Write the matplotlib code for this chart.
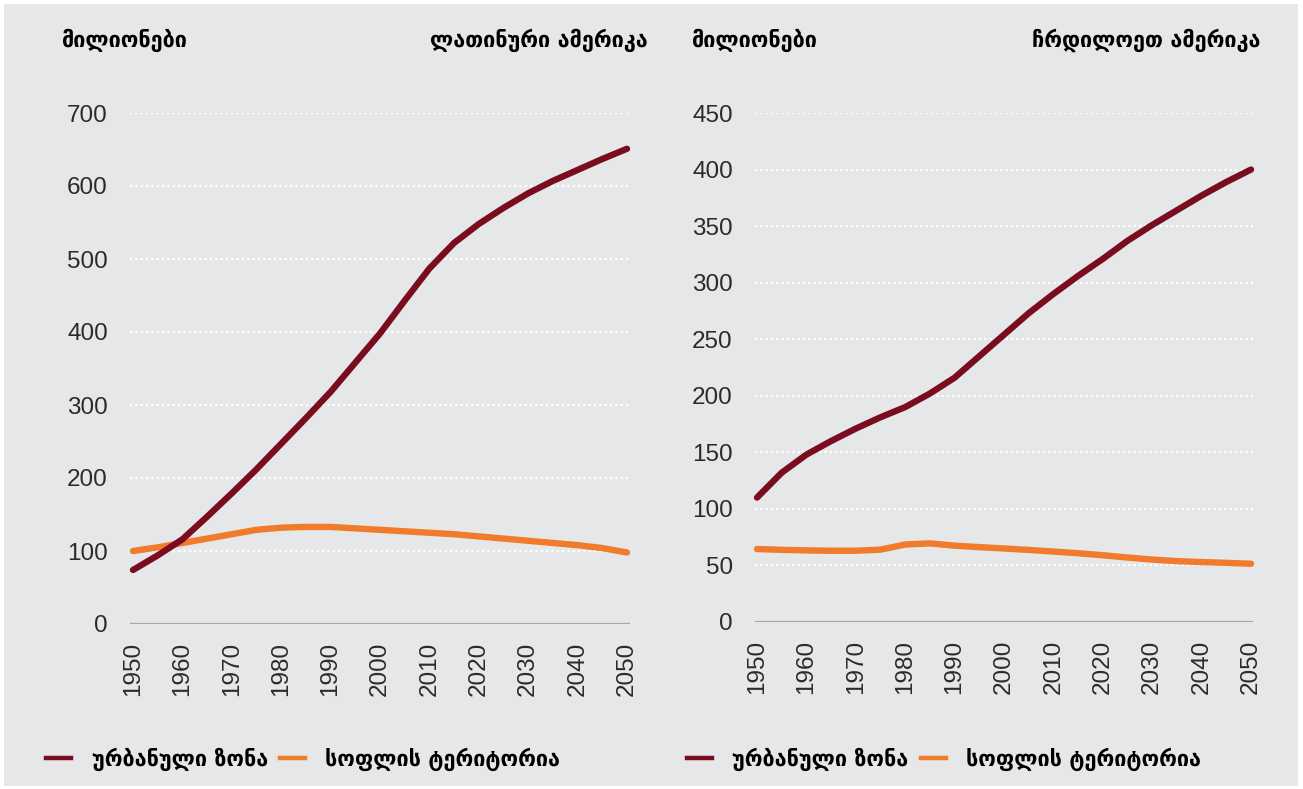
import matplotlib
matplotlib.use('Agg')
import matplotlib.pyplot as plt
from matplotlib.patches import Rectangle
from matplotlib.lines import Line2D

# ---------------- data ----------------
years = [1950, 1955, 1960, 1965, 1970, 1975, 1980, 1985, 1990, 1995, 2000,
         2005, 2010, 2015, 2020, 2025, 2030, 2035, 2040, 2045, 2050]
tick_years = [1950, 1960, 1970, 1980, 1990, 2000, 2010, 2020, 2030, 2040, 2050]

latam_urban = [74, 94, 116, 147, 179, 212, 247, 282, 318, 358, 398,
               443, 487, 522, 548, 570, 590, 607, 622, 637, 651]
latam_rural = [100, 105, 111, 117, 123, 129, 132, 133, 133, 131, 129,
               127, 125, 123, 120, 117, 114, 111, 108, 104, 98]
na_urban = [110, 132, 148, 160, 171, 181, 190, 202, 216, 235, 254,
            273, 290, 306, 321, 337, 351, 364, 377, 389, 400]
na_rural = [64.5, 63.8, 63.3, 63.0, 63.0, 64.0, 68.5, 69.5, 67.5, 66.2, 65.0,
            63.7, 62.3, 60.8, 59.0, 57.0, 55.2, 53.8, 53.0, 52.3, 51.5]

latam_yticks = [0, 100, 200, 300, 400, 500, 600, 700]
na_yticks = [0, 50, 100, 150, 200, 250, 300, 350, 400, 450]

unit_label = 'მილიონები'
title_latam = 'ლათინური ამერიკა'
title_na = 'ჩრდილოეთ ამერიკა'
label_urban = 'ურბანული ზონა'
label_rural = 'სოფლის ტერიტორია'

# ---------------- style ----------------
URBAN = '#7a0c1f'
RURAL = '#f07b2b'
BG = '#e6e7e8'
TICKC = '#2b2b2b'
GEO_FONT = dict(family=['DejaVu Sans'], weight='bold', size=15.6)

W, H = 1303, 789
fig = plt.figure(figsize=(W / 100, H / 100), dpi=100)
fig.patch.set_facecolor('white')
fig.patches.append(Rectangle((4 / W, 3 / H), 1294 / W, 782 / H,
                             transform=fig.transFigure, facecolor=BG,
                             edgecolor='none', zorder=-10))


def px_axes(x0, x1, ytop, ybot):
    return fig.add_axes([x0 / W, (H - ybot) / H, (x1 - x0) / W, (ybot - ytop) / H])


def style_axes(ax, xlim, yticks):
    ax.set_facecolor('none')
    for s in ax.spines.values():
        s.set_visible(False)
    ax.set_xlim(*xlim)
    ax.set_ylim(0, yticks[-1])
    ax.set_yticks(yticks)
    ax.set_xticks(tick_years)
    ax.set_xticklabels([str(y) for y in tick_years], rotation=90,
                       family='Liberation Sans', fontsize=17.5, color=TICKC)
    ax.set_yticklabels([str(v) for v in yticks],
                       family='Liberation Sans', fontsize=17.5, color=TICKC)
    ax.tick_params(axis='both', length=0)
    ax.tick_params(axis='y', pad=16)
    ax.tick_params(axis='x', pad=13)
    for v in yticks[1:]:
        ax.axhline(v, color='white', lw=1.6, ls=(0, (1, 1.4)), zorder=1)
    ax.axhline(0, color='#a5a5a5', lw=1.6, zorder=2)


# Latin America
ax1 = px_axes(130, 630, 113, 624)
style_axes(ax1, (1950 - 3 / 4.94, 2050 + 3 / 4.94), latam_yticks)
ax1.plot(years, latam_rural, color=RURAL, lw=4.6, solid_capstyle='round', zorder=3, clip_on=False)
ax1.plot(years, latam_urban, color=URBAN, lw=4.6, solid_capstyle='round', zorder=4, clip_on=False)

# North America
ax2 = px_axes(755, 1253, 113, 622)
style_axes(ax2, (1950 - 2 / 4.94, 2050 + 2 / 4.94), na_yticks)
ax2.plot(years, na_rural, color=RURAL, lw=4.6, solid_capstyle='round', zorder=3, clip_on=False)
ax2.plot(years, na_urban, color=URBAN, lw=4.6, solid_capstyle='round', zorder=4, clip_on=False)

# titles
fig.text(62 / W, 1 - 40 / H, unit_label, ha='left', va='center', **GEO_FONT)
fig.text(648 / W, 1 - 40 / H, title_latam, ha='right', va='center', **GEO_FONT)
fig.text(692 / W, 1 - 40 / H, unit_label, ha='left', va='center', **GEO_FONT)
fig.text(1260 / W, 1 - 40 / H, title_na, ha='right', va='center', **GEO_FONT)

# legends
handles = [Line2D([], [], color=URBAN, lw=3.2), Line2D([], [], color=RURAL, lw=3.2)]
labels = [label_urban, label_rural]
for xpos in (46, 687):
    fig.legend(handles, labels, loc='center left', bbox_to_anchor=(xpos / W, 1 - 759 / H),
               ncol=2, frameon=False, prop=GEO_FONT, handlelength=1.15,
               handletextpad=0.95, columnspacing=0.55, borderaxespad=0, borderpad=0)

fig.savefig('out.png', dpi=100, facecolor=fig.get_facecolor())
